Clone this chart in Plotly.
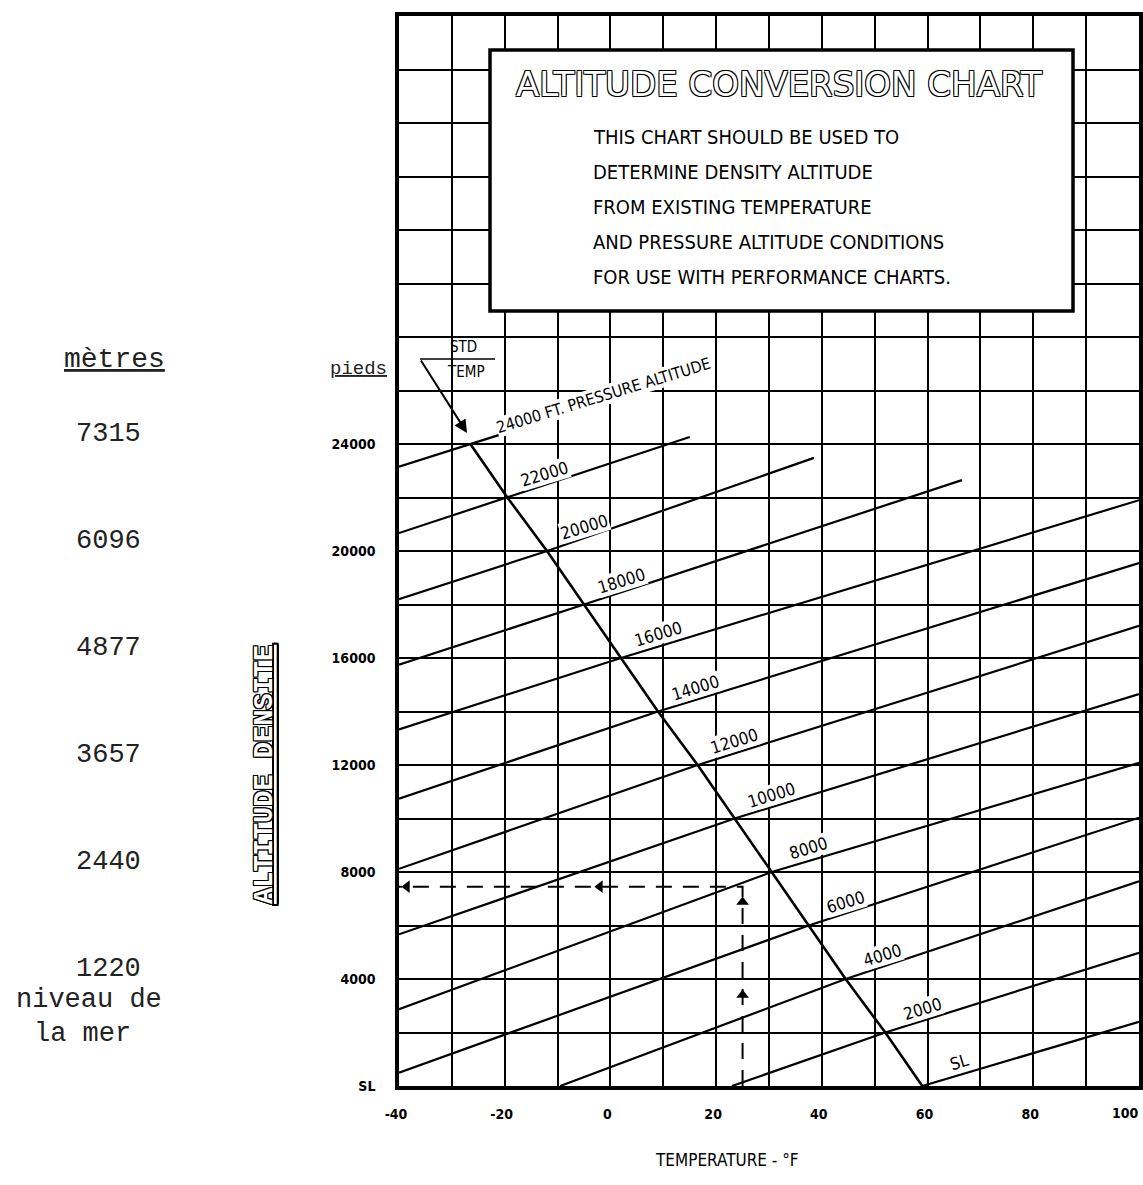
import plotly.graph_objects as go

# ---------------- data ----------------
temp_ticks = [-40, -20, 0, 20, 40, 60, 80, 100]
temp_ticktext = ["-40", "-20", "0", "20", "40", "60", "80", "100"]
alt_ticks = [0, 4000, 8000, 12000, 16000, 20000, 24000]
alt_ticktext = ["SL", "4000", "8000", "12000", "16000", "20000", "24000"]
metres_feet = [4000, 8000, 12000, 16000, 20000, 24000]
metres_text = ["1220", "2440", "3657", "4877", "6096", "7315"]

# pressure-altitude lines (ft), read at their start, at the STD-temp line and at their end
pressure_alt = [0, 2000, 4000, 6000, 8000, 10000, 12000, 14000, 16000, 18000, 20000, 22000, 24000]
line_labels = ["SL", "2000", "4000", "6000", "8000", "10000", "12000", "14000", "16000",
               "18000", "20000", "22000", "24000 FT. PRESSURE ALTITUDE"]
start_temp = [59, 23, -9.5, -40, -40, -40, -40, -40, -40, -40, -40, -40, -40]
start_da = [0, 0, 0, 500, 2870, 5670, 8120, 10740, 13330, 15750, 18200, 20670, 23150]
std_temp = [59, 52, 44.5, 37.5, 30.5, 23.5, 16.5, 9, 2, -5, -12, -19.5, -26.5]
end_temp = [100, 100, 100, 100, 100, 100, 100, 100, 100, 66.5, 38.5, 15, -6.5]
end_da = [2400, 4980, 7650, 10030, 12080, 14650, 17200, 19550, 21900, 22650, 23480, 24260, 25250]

# worked example (dashed arrows)
example_temp = 25
example_da = 7450
example_up_arrows = [3400, 6880]
example_left_arrows = [-38.5, -2]

box_title = "ALTITUDE CONVERSION CHART"
box_lines = ["THIS CHART SHOULD BE USED TO",
             "DETERMINE DENSITY ALTITUDE",
             "FROM EXISTING TEMPERATURE",
             "AND PRESSURE ALTITUDE CONDITIONS",
             "FOR USE WITH PERFORMANCE CHARTS."]

# ---------------- layout geometry (pixels) ----------------
W, H = 1143, 1185
L, R, T, B = 399, 4, 16, 99
PW, PH = W - L - R, H - T - B


def px(xp):
    return (xp - L) / PW


def py(yp):
    return (H - B - yp) / PH


SANS = "DejaVu Sans Condensed, Liberation Sans Narrow, DejaVu Sans, sans-serif"
MONO = "Liberation Mono, Courier New, DejaVu Sans Mono, monospace"
OUTLINE = "-1px -1px 0 #000, 1px -1px 0 #000, -1px 1px 0 #000, 1px 1px 0 #000"
TICKFONT = dict(family=SANS, size=14, color="black", weight="bold")


def note(xp, yp, text, size, family=SANS, xanchor="center", color="black", **font_extra):
    return dict(x=px(xp), y=py(yp), xref="paper", yref="paper", text=text,
                showarrow=False, xanchor=xanchor, yanchor="middle",
                font=dict(family=family, size=size, color=color, **font_extra))


fig = go.Figure()

# pressure altitude lines
for i in range(len(pressure_alt)):
    fig.add_trace(go.Scatter(
        x=[start_temp[i], std_temp[i], end_temp[i]],
        y=[start_da[i], pressure_alt[i], end_da[i]],
        mode="lines", line=dict(color="black", width=2.2),
        hoverinfo="skip", showlegend=False))

# standard temperature line
fig.add_trace(go.Scatter(
    x=std_temp, y=pressure_alt, mode="lines",
    line=dict(color="black", width=2.6), hoverinfo="skip", showlegend=False))

# example dashed path
fig.add_trace(go.Scatter(
    x=[example_temp, example_temp, -40], y=[0, example_da, example_da], mode="lines",
    line=dict(color="black", width=2, dash="16px,11px"), hoverinfo="skip", showlegend=False))
fig.add_trace(go.Scatter(
    x=[example_temp] * len(example_up_arrows), y=example_up_arrows, mode="markers",
    marker=dict(symbol="triangle-up", size=11, color="black"), hoverinfo="skip", showlegend=False))
fig.add_trace(go.Scatter(
    x=example_left_arrows, y=[example_da] * len(example_left_arrows), mode="markers",
    marker=dict(symbol="triangle-left", size=11, color="black"), hoverinfo="skip", showlegend=False))

annotations = []

# line labels
for i, lab in enumerate(line_labels):
    last = i == len(line_labels) - 1
    annotations.append(dict(
        x=std_temp[i], y=pressure_alt[i], xref="x", yref="y", text=lab, showarrow=False,
        xanchor="center", yanchor="middle",
        xshift=133 if last else 37, yshift=49 if last else 24, textangle=-17,
        font=dict(family=SANS, size=16 if last else 17, color="black"),
        bgcolor="white", borderpad=0))

# last x tick label sits against the right edge (kept inside the page)
annotations.append(dict(x=temp_ticks[-1], y=py(1113), xref="x", yref="paper",
                        text=temp_ticktext[-1], showarrow=False, xanchor="right",
                        yanchor="middle", xshift=2, font=TICKFONT))

# info box
annotations.append(note(779, 84, box_title, 34, family="DejaVu Sans, sans-serif",
                        color="white", shadow=OUTLINE))
for k, t in enumerate(box_lines):
    annotations.append(note(591, 137 + 35 * k, t, 20, xanchor="left"))

# STD / TEMP marker
annotations.append(note(463, 347, "STD", 15))
annotations.append(note(466, 372, "TEMP", 15))
annotations.append(dict(x=px(467), y=py(433), xref="paper", yref="paper", text="",
                        showarrow=True, ax=-47, ay=-74, arrowhead=2, arrowsize=1.3,
                        arrowwidth=2, arrowcolor="black"))

# metres column
for f, m in zip(metres_feet, metres_text):
    annotations.append(dict(x=px(108), y=f, xref="paper", yref="y", yshift=10, text=m,
                            showarrow=False, xanchor="center", yanchor="middle",
                            font=dict(family=MONO, size=27, color="#222")))
annotations.append(note(89, 1000, "niveau de", 27, family=MONO, color="#222"))
annotations.append(note(82, 1034, "la mer", 27, family=MONO, color="#222"))
annotations.append(note(114, 360, "mètres", 28, family=MONO, color="#222",
                        lineposition="under"))
annotations.append(note(358, 369, "pieds", 19, family=MONO, color="#222",
                        lineposition="under"))
rot = note(265, 775, "ALTITUDE DENSITE", 27, family=MONO, color="white", weight="bold",
           shadow=OUTLINE, lineposition="under")
rot["textangle"] = -90
annotations.append(rot)
annotations.append(note(727, 1160, "TEMPERATURE - °F", 17))

shapes = [
    dict(type="rect", xref="paper", yref="paper", x0=px(490), x1=px(1073),
         y0=py(311), y1=py(50), fillcolor="white", line=dict(color="black", width=3.5),
         layer="above"),
    dict(type="line", xref="paper", yref="paper", x0=px(420), x1=px(495),
         y0=py(359), y1=py(359), line=dict(color="black", width=1.5)),
]

fig.update_layout(
    width=W, height=H, autosize=False,
    margin=dict(l=L, r=R, t=T, b=B, pad=0, autoexpand=False),
    paper_bgcolor="white", plot_bgcolor="white",
    showlegend=False, hovermode=False,
    annotations=annotations, shapes=shapes,
    xaxis=dict(range=[-40, 100], tickmode="array", tickvals=temp_ticks[:-1],
               ticktext=temp_ticktext[:-1], showgrid=True, gridcolor="black", gridwidth=2,
               minor=dict(tickmode="linear", tick0=-40, dtick=10, showgrid=True,
                          gridcolor="black", gridwidth=2),
               zeroline=False, showline=True, mirror=True, linecolor="black", linewidth=3.5,
               ticks="outside", ticklen=12, tickcolor="rgba(0,0,0,0)",
               ticklabelshift=-3, automargin=False, tickfont=TICKFONT),
    yaxis=dict(range=[0, 40000], tickmode="array", tickvals=alt_ticks,
               ticktext=alt_ticktext, showgrid=True, gridcolor="black", gridwidth=2,
               minor=dict(tickmode="linear", tick0=0, dtick=2000, showgrid=True,
                          gridcolor="black", gridwidth=2),
               zeroline=False, showline=True, mirror=True, linecolor="black", linewidth=3.5,
               ticks="outside", ticklen=17, tickcolor="rgba(0,0,0,0)", automargin=False,
               tickfont=TICKFONT),
)

fig.write_html("out.html")
